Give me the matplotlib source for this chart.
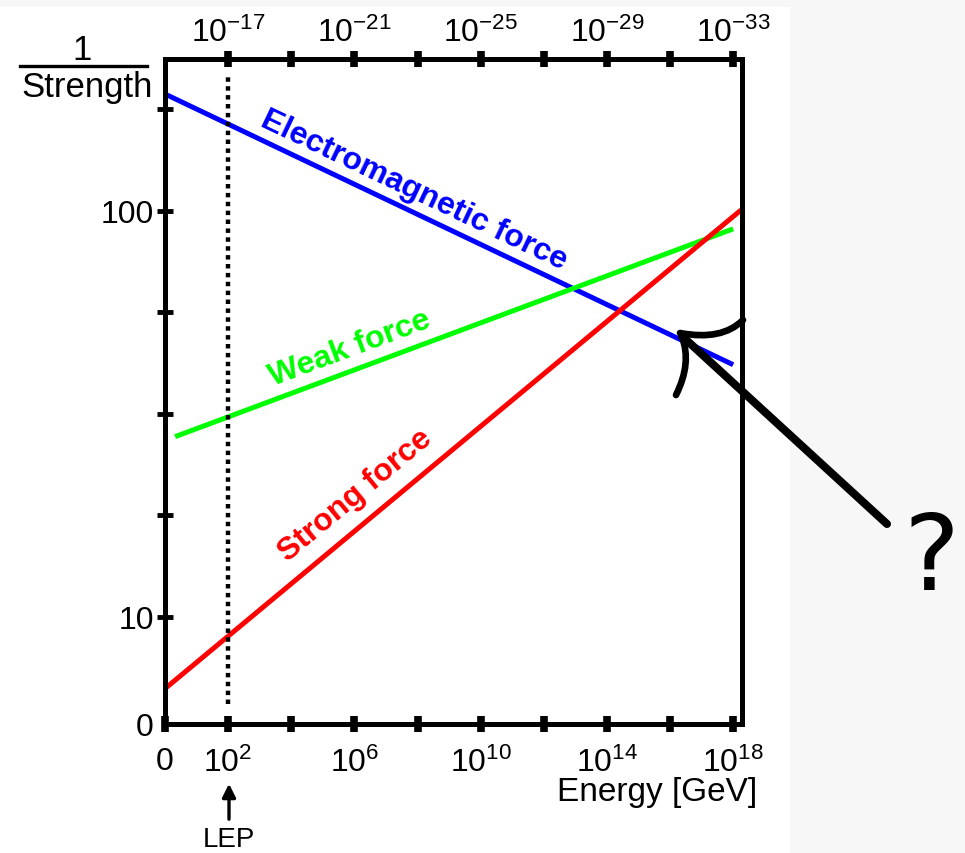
import numpy as np
import matplotlib.pyplot as plt
from matplotlib.path import Path
from matplotlib.patches import PathPatch, Rectangle
from matplotlib.lines import Line2D

plt.rcParams['font.family'] = ['Liberation Sans', 'DejaVu Sans']
plt.rcParams['mathtext.fontset'] = 'custom'
plt.rcParams['mathtext.rm'] = 'Liberation Sans'
plt.rcParams['mathtext.it'] = 'Liberation Sans:italic'
plt.rcParams['mathtext.bf'] = 'Liberation Sans:bold'

# log10(E / GeV) at the ends of each line, and 1/strength there
em_logE = [0.0, 18.0]
em_inv = [194.0, 41.8]
weak_logE = [0.32, 18.0]
weak_inv = [27.8, 90.3]
strong_logE = [0.0, 18.25]
strong_inv = [6.66, 100.5]

lep_logE = 2.0
lep_span = [6.1, 214.0]

bottom_ticks = [0, 2, 4, 6, 8, 10, 12, 14, 16, 18]
bottom_labels = ['0', r'$10^{2}$', '', r'$10^{6}$', '', r'$10^{10}$', '', r'$10^{14}$', '', r'$10^{18}$']
top_ticks = [2, 4, 6, 8, 10, 12, 14, 16, 18]
top_labels = [r'$10^{-17}$', '', r'$10^{-21}$', '', r'$10^{-25}$', '', r'$10^{-29}$', '', r'$10^{-33}$']
y_bottom, y_top = 5.45, 236.6
y_ticks = [y_bottom, 10, 10**1.25, 10**1.5, 10**1.75, 100, 10**2.25]
y_labels = ['0', '10', '', '', '', '100', '']

W, H = 965, 854
fig = plt.figure(figsize=(W / 100, H / 100), dpi=100, facecolor='#f7f7f7')
fig.patches.append(Rectangle((0, 0), 790 / W, 1 - 8 / H, transform=fig.transFigure,
                             facecolor='white', edgecolor='none', zorder=-5))

def fx(px):
    return px / W

def fy(py):
    return 1 - py / H

ax = fig.add_axes([fx(165), fy(725), fx(742) - fx(165), fy(60) - fy(725)])
ax.set_facecolor('white')
ax.set_yscale('log')
ax.set_xlim(0, 18.28)
ax.set_ylim(y_bottom, y_top)

ax.plot(em_logE, em_inv, color='#0000ff', lw=3.6, solid_capstyle='butt')
ax.plot(weak_logE, weak_inv, color='#00ff00', lw=3.6, solid_capstyle='butt')
ax.plot(strong_logE, strong_inv, color='#ff0000', lw=3.6, solid_capstyle='butt')
ax.plot([lep_logE, lep_logE], lep_span, color='black', lw=3.2, linestyle=(0, (1, 1)))

for s in ax.spines.values():
    s.set_linewidth(3.6)

ax.set_xticks(bottom_ticks)
ax.set_xticklabels(bottom_labels, fontsize=23)
ax.set_yticks(y_ticks)
ax.set_yticklabels(y_labels, fontsize=23)
ax.yaxis.set_minor_locator(plt.NullLocator())
ax.tick_params(axis='x', direction='inout', length=12, width=5.5, pad=10)
ax.tick_params(axis='y', direction='inout', length=12, width=3.5, pad=2)
ax.xaxis.get_major_ticks()[0].tick1line.set_visible(False)
ax.yaxis.get_major_ticks()[0].tick1line.set_visible(False)

ax2 = ax.twiny()
ax2.set_xlim(ax.get_xlim())
ax2.set_xticks(top_ticks)
ax2.set_xticklabels(top_labels, fontsize=23)
ax2.tick_params(axis='x', direction='inout', length=12, width=5.5, pad=2)
for s in ax2.spines.values():
    s.set_visible(False)

# labels written along the lines
def line_label(xs, ys, at, text, color, offset):
    p0 = ax.transData.transform((xs[0], ys[0]))
    p1 = ax.transData.transform((xs[1], ys[1]))
    ang = np.degrees(np.arctan2(p1[1] - p0[1], p1[0] - p0[0]))
    yv = 10 ** np.interp(at, xs, np.log10(ys))
    th = np.radians(ang)
    ax.annotate(text, (at, yv), xytext=(-np.sin(th) * offset, np.cos(th) * offset),
                textcoords='offset points', rotation=ang, rotation_mode='anchor',
                ha='center', va='bottom', color=color, fontsize=23, fontweight='bold')

line_label(em_logE, em_inv, 7.6, 'Electromagnetic force', '#0000ff', 4)
line_label(weak_logE, weak_inv, 6.1, 'Weak force', '#00ff00', 5)
line_label(strong_logE, strong_inv, 6.6, 'Strong force', '#ff0000', 9)

# y label as a fraction
fig.text(fx(82), fy(51), '1', fontsize=25, ha='center', va='center')
fig.lines.append(Line2D([fx(20), fx(147)], [fy(67), fy(67)], color='black', lw=2.4,
                        transform=fig.transFigure))
fig.text(fx(87), fy(87), 'Strength', fontsize=25, ha='center', va='center')

fig.text(fx(657), fy(793), 'Energy [GeV]', fontsize=24, ha='center', va='center')

# LEP arrow
ax.annotate('', xy=(fx(229), fy(782)), xytext=(fx(229), fy(823)), xycoords='figure fraction',
            textcoords='figure fraction', annotation_clip=False,
            arrowprops=dict(arrowstyle='-|>', color='black', lw=2.4, mutation_scale=20))
fig.text(fx(229), fy(840), 'LEP', fontsize=20, ha='center', va='center')

# hand drawn question arrow
def curve(pts, codes, lw):
    path = Path([(fx(x), fy(y)) for x, y in pts], codes)
    fig.patches.append(PathPatch(path, transform=fig.transFigure, fill=False,
                                 edgecolor='black', lw=lw, capstyle='round', zorder=5))

curve([(887, 525), (682, 337)], [Path.MOVETO, Path.LINETO], 5.8)
curve([(680, 334), (722, 342), (743, 321)], [Path.MOVETO, Path.CURVE3, Path.CURVE3], 4.8)
curve([(682, 338), (692, 364), (676, 396)], [Path.MOVETO, Path.CURVE3, Path.CURVE3], 4.8)
fig.text(fx(931), fy(561), '?', fontsize=76, family='DejaVu Sans', ha='center', va='center')

fig.savefig('out.png', dpi=100, facecolor=fig.get_facecolor())
